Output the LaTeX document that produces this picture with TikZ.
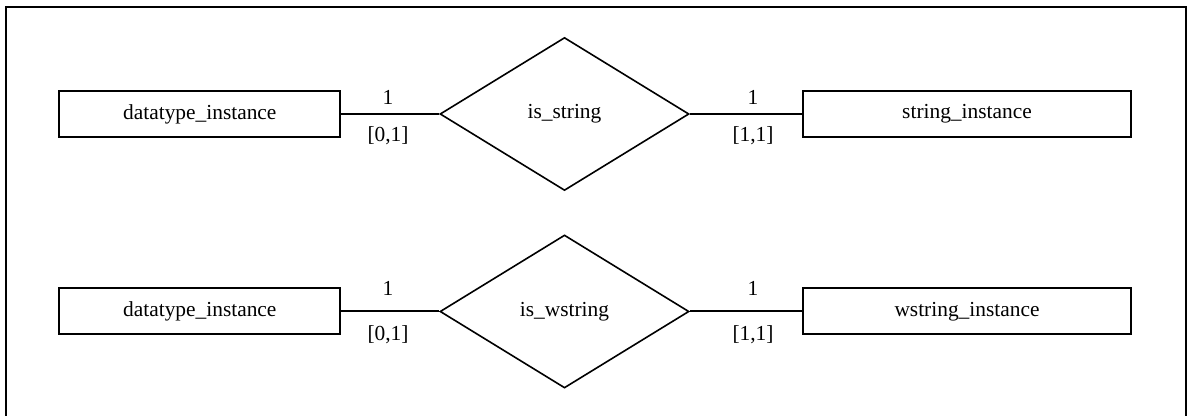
\documentclass[tikz,border=0pt]{standalone}
\usepackage{fontspec}
\setmainfont{Liberation Serif}
\usetikzlibrary{shapes.geometric}

\tikzset{
    entity/.style={draw, line width=1pt, rectangle, minimum width=140.5pt, minimum height=23pt, inner sep=0pt},
    relation/.style={draw, line width=0.8pt, diamond, minimum width=124.5pt, minimum height=76.5pt, inner sep=0pt},
    card/.style={inner sep=0pt}
}

\begin{document}
\begin{tikzpicture}[x=0.5pt, y=-0.5pt, font=\fontsize{10.7}{13}\selectfont]
    \useasboundingbox (0, 0) rectangle (1187, 416);

    % frame, open at the bottom
    \draw [line width=1pt] (5.5, 416) -- (5.5, 7) -- (1185.5, 7) -- (1185.5, 416);

    \foreach \i/\y/\up/\down/\rel/\ent in {1/114/97/136/is\_string/string\_instance, 2/311.5/288/335/is\_wstring/wstring\_instance}{
        \node [entity] (left\i) at (199.8, \y) {datatype\_instance};
        \node [relation] (rel\i) at (564.5, \y) {\rel};
        \node [entity, minimum width=164pt] (right\i) at (967, \y) {\ent};

        \draw [line width=1pt] (left\i) -- (rel\i);
        \draw [line width=1pt] (rel\i) -- (right\i);

        \node [card] (lone\i) at (388, \up) {1};
        \node [card] (lcard\i) at (388, \down) {[0,1]};
        \node [card] (rone\i) at (753, \up) {1};
        \node [card] (rcard\i) at (753, \down) {[1,1]};
    }
\end{tikzpicture}
\end{document}
